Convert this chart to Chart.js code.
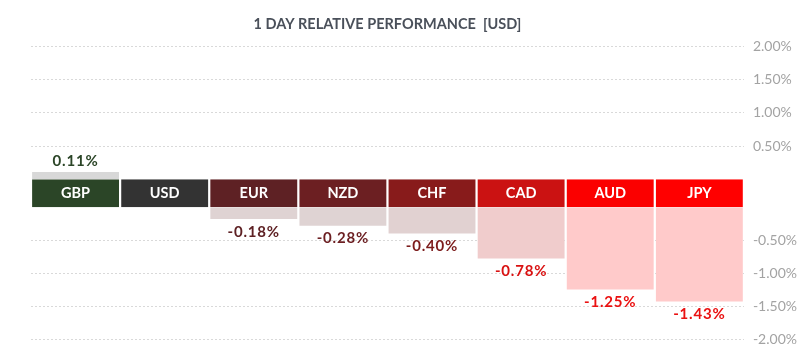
<!DOCTYPE html>
<html>
<head>
<meta charset="utf-8">
<script src="https://cdn.jsdelivr.net/npm/chart.js@4.4.1/dist/chart.umd.min.js"></script>
<style>
  html, body { margin: 0; padding: 0; background: #fff; }
  #wrap { width: 800px; height: 363px; }
</style>
</head>
<body>
<div id="wrap"><canvas id="perf"></canvas></div>
<script>
const currencies = ["GBP", "USD", "EUR", "NZD", "CHF", "CAD", "AUD", "JPY"];
const changes = [0.11, 0, -0.18, -0.28, -0.40, -0.78, -1.25, -1.43];
const tickSteps = [0.5, 1.0, 1.5, 2.0];

const boxColors = ["#2b4527", "#333333", "#5e2124", "#6c1f22", "#881b1b", "#cb1212", "#fb0000", "#ff0000"];
const barColors = ["#d8d8d8", "#dddddd", "#dfd3d3", "#dfd3d3", "#e1d1d1", "#f0cccc", "#ffcaca", "#ffcaca"];
const textColors = ["#2b4527", "#333333", "#5e2124", "#6c1f22", "#7c1c1c", "#d91111", "#ea1111", "#ea1111"];

const ups = changes.map(v => v > 0 ? v : null);
const downs = changes.map(v => v < 0 ? v : null);

function pct(v) {
  if (Math.abs(v) < 1e-9) return null; // hides the 0 tick and its grid line
  return v.toFixed(2) + "%";
}

const gridOpts = { color: "#d9d9d9", drawTicks: false };
const borderOpts = { display: false, dash: [2, 2] };
const tickOpts = { color: "#a3a3a3", font: { family: "Lato", size: 14 }, padding: 9, stepSize: 0.5, callback: pct };

// box labels + value labels
const labelsPlugin = {
  id: "labels",
  afterDatasetsDraw(chart) {
    const ctx = chart.ctx;
    ctx.save();
    ctx.textAlign = "center";
    ctx.textBaseline = "middle";

    const band = chart.getDatasetMeta(2);
    ctx.font = "bold 14.5px Lato";
    ctx.fillStyle = "#ffffff";
    band.data.forEach((el, i) => {
      ctx.fillText(currencies[i], el.x, (el.y + el.base) / 2);
    });

    ctx.font = "bold 15px Lato";
    ctx.letterSpacing = "0.8px";
    [0, 1].forEach(di => {
      chart.getDatasetMeta(di).data.forEach((el, i) => {
        const v = changes[i];
        if (v === 0) return;
        if ((di === 0 && v < 0) || (di === 1 && v > 0)) return;
        ctx.fillStyle = textColors[i];
        const y = v > 0 ? el.y - 11 : el.y + 13;
        ctx.fillText(v.toFixed(2) + "%", el.x, y);
      });
    });
    ctx.restore();
  }
};

new Chart(document.getElementById("perf"), {
  type: "bar",
  data: {
    labels: currencies,
    datasets: [
      { data: ups, yAxisID: "yTop", backgroundColor: barColors },
      { data: downs, yAxisID: "yBot", backgroundColor: barColors },
      { data: currencies.map(() => 1), yAxisID: "yBand", backgroundColor: boxColors }
    ]
  },
  options: {
    responsive: true,
    maintainAspectRatio: false,
    animation: false,
    events: [],
    layout: { padding: { left: 31, right: -6, bottom: 24 } },
    datasets: {
      bar: { grouped: false, barPercentage: 0.975, categoryPercentage: 1, borderWidth: 0 }
    },
    plugins: {
      legend: { display: false },
      tooltip: { enabled: false },
      title: {
        display: true,
        fullSize: false,
        text: "1 DAY RELATIVE PERFORMANCE  [USD]",
        color: "#4a505a",
        font: { family: "Lato", size: 14.5, weight: "bold" },
        padding: { top: 16, bottom: 13 }
      }
    },
    scales: {
      x: { display: false },
      yTop: {
        type: "linear", position: "right", stack: "perf", stackWeight: 133,
        min: 0, max: tickSteps[tickSteps.length - 1],
        grid: gridOpts, border: borderOpts, ticks: tickOpts
      },
      yBand: {
        type: "linear", position: "right", stack: "perf", stackWeight: 28,
        min: 0, max: 1,
        grid: { display: false, drawTicks: false }, border: { display: false },
        ticks: { display: false }
      },
      yBot: {
        type: "linear", position: "right", stack: "perf", stackWeight: 132,
        min: -tickSteps[tickSteps.length - 1], max: 0,
        grid: gridOpts, border: borderOpts, ticks: tickOpts
      }
    }
  },
  plugins: [labelsPlugin]
});
</script>
</body>
</html>
